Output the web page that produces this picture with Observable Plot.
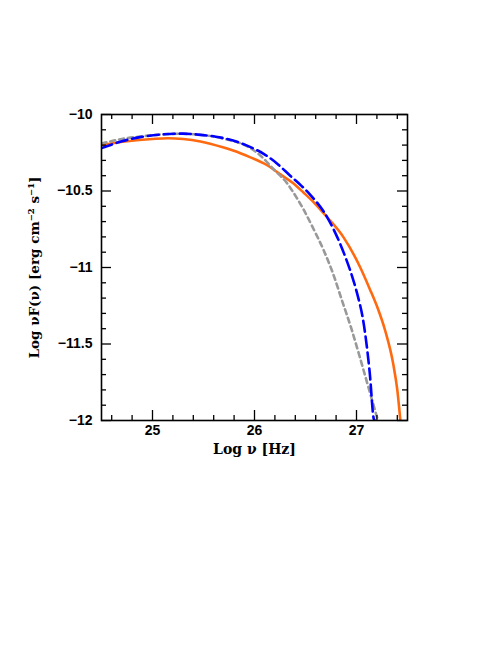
<!DOCTYPE html>
<html>
<head>
<meta charset="utf-8">
<script src="https://cdn.jsdelivr.net/npm/d3@7"></script>
<script src="https://cdn.jsdelivr.net/npm/@observablehq/plot@0.6"></script>
<style>
  html, body { margin: 0; padding: 0; background: #fff; }
</style>
</head>
<body>
<div id="chart"></div>
<script>
// Solid orange model
const orangeX = [24.5, 24.75, 25.0, 25.15, 25.3, 25.47, 25.69, 25.79, 25.96, 26.12, 26.25, 26.38, 26.48, 26.59, 26.71, 26.87, 27.03, 27.13, 27.21, 27.28, 27.36, 27.4, 27.43];
const orangeY = [-10.2, -10.175, -10.16, -10.155, -10.16, -10.176, -10.214, -10.235, -10.28, -10.33, -10.39, -10.45, -10.51, -10.58, -10.67, -10.8, -10.99, -11.14, -11.27, -11.41, -11.63, -11.8, -12.0];

// Long-dashed blue model
const blueX = [24.5, 24.7, 24.88, 25.1, 25.3, 25.47, 25.62, 25.79, 25.95, 26.09, 26.22, 26.35, 26.45, 26.545, 26.72, 26.81, 26.89, 26.97, 27.02, 27.06, 27.13, 27.17, 27.18];
const blueY = [-10.22, -10.175, -10.148, -10.13, -10.125, -10.133, -10.145, -10.17, -10.21, -10.257, -10.32, -10.4, -10.46, -10.523, -10.68, -10.8, -10.93, -11.085, -11.205, -11.325, -11.69, -11.99, -12.0];

// Short-dashed grey model
const greyX = [24.5, 24.7, 24.88, 25.1, 25.27, 25.5, 25.69, 25.96, 26.06, 26.19, 26.32, 26.41, 26.48, 26.58, 26.68, 26.77, 26.86, 26.95, 27.03, 27.12, 27.21];
const greyY = [-10.19, -10.16, -10.144, -10.13, -10.126, -10.135, -10.157, -10.22, -10.27, -10.36, -10.45, -10.54, -10.62, -10.75, -10.89, -11.04, -11.22, -11.4, -11.58, -11.79, -12.0];

// Axes
const xTicks = [25, 26, 27];
const yTicks = [-10, -10.5, -11, -11.5, -12];
const xMinor = d3.range(24.6, 27.45, 0.2).map(v => +v.toFixed(1)).filter(v => !xTicks.includes(v));
const yMinor = d3.range(-12, -9.95, 0.1).map(v => +v.toFixed(1)).filter(v => !yTicks.includes(v));
const xLabel = "Log ν [Hz]";
const yLabel = "Log νF(ν) [erg cm⁻² s⁻¹]";

const W = 498, H = 645, mL = 101, mR = 91, mT = 114, mB = 225;
const innerH = H - mT - mB;
const innerW = W - mL - mR;
const major = 10, minor = 5;
const fmt = d => (d < 0 ? "\u2212" : "") + Math.abs(d);
const serif = "DejaVu Serif";
const sans = "Liberation Sans";

const chart = Plot.plot({
  width: W, height: H,
  marginLeft: mL, marginRight: mR, marginTop: mT, marginBottom: mB,
  x: {domain: [24.5, 27.5]},
  y: {domain: [-12, -10]},
  style: {fontFamily: serif, fontSize: "13px", background: "#fff", color: "#000"},
  marks: [
    Plot.line(orangeX, {x: orangeX, y: orangeY, stroke: "#ff6a10", strokeWidth: 2.6, curve: "monotone-x", clip: true}),
    Plot.line(greyX, {x: greyX, y: greyY, stroke: "#999999", strokeWidth: 2.6, strokeDasharray: "5,4", curve: "monotone-x", clip: true}),
    Plot.line(blueX, {x: blueX, y: blueY, stroke: "#0000ff", strokeWidth: 2.6, strokeDasharray: "11,5", curve: "monotone-x", clip: true}),
    // inward ticks: bottom / top
    Plot.tickX(xTicks, {x: d => d, insetTop: innerH - major, stroke: "#000", strokeWidth: 1.3}),
    Plot.tickX(xTicks, {x: d => d, insetBottom: innerH - major, stroke: "#000", strokeWidth: 1.3}),
    Plot.tickX(xMinor, {x: d => d, insetTop: innerH - minor, stroke: "#000", strokeWidth: 1.3}),
    Plot.tickX(xMinor, {x: d => d, insetBottom: innerH - minor, stroke: "#000", strokeWidth: 1.3}),
    // inward ticks: left / right
    Plot.tickY(yTicks, {y: d => d, insetRight: innerW - major, stroke: "#000", strokeWidth: 1.3}),
    Plot.tickY(yTicks, {y: d => d, insetLeft: innerW - major, stroke: "#000", strokeWidth: 1.3}),
    Plot.tickY(yMinor, {y: d => d, insetRight: innerW - minor, stroke: "#000", strokeWidth: 1.3}),
    Plot.tickY(yMinor, {y: d => d, insetLeft: innerW - minor, stroke: "#000", strokeWidth: 1.3}),
    Plot.frame({stroke: "#000", strokeWidth: 1.6}),
    Plot.axisX(xTicks, {tickSize: 0, tickPadding: 5, tickFormat: fmt, label: null, fontFamily: sans, fontSize: 14, fontWeight: 600, fill: "#000"}),
    Plot.axisY(yTicks, {tickSize: 0, tickPadding: 9, tickFormat: fmt, label: null, fontFamily: sans, fontSize: 14, fontWeight: 600, fill: "#000"}),
    Plot.text([xLabel], {frameAnchor: "bottom", dy: 33, text: d => d, fontSize: 14, fontWeight: 600, fill: "#000"}),
    Plot.text([yLabel], {frameAnchor: "left", textAnchor: "middle", dx: -67, rotate: -90, text: d => d, fontSize: 13.5, fontWeight: 600, fill: "#000"})
  ]
});
document.getElementById("chart").appendChild(chart);
</script>
</body>
</html>
